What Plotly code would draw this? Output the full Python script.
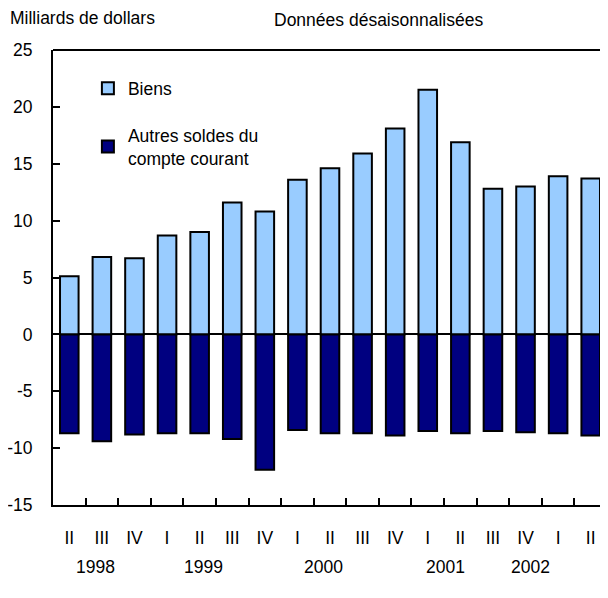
import plotly.graph_objects as go

quarters = ["II", "III", "IV", "I", "II", "III", "IV", "I", "II", "III", "IV", "I", "II", "III", "IV", "I", "II"]
years = ["1998", "1999", "2000", "2001", "2002"]
year_pos = [0.79, 4.13, 7.81, 11.55, 14.16]
y_ticks = [-15, -10, -5, 0, 5, 10, 15, 20, 25]
y_tick_text = ["-15", "-10", "-5", "0", "5", "10", "15", "20", "25"]
biens = [5.1, 6.8, 6.7, 8.7, 9.0, 11.6, 10.8, 13.6, 14.6, 15.9, 18.1, 21.5, 16.9, 12.8, 13.0, 13.9, 13.7]
autres = [-8.7, -9.4, -8.8, -8.7, -8.7, -9.2, -11.9, -8.4, -8.7, -8.7, -8.9, -8.5, -8.7, -8.5, -8.6, -8.7, -8.9]

x = list(range(len(quarters)))
FONT = "Liberation Sans, Arial, sans-serif"
FS = 17.5

fig = go.Figure()
fig.add_trace(go.Bar(x=x, y=biens, name="Biens", width=0.57,
                     marker=dict(color="#99CCFF", line=dict(color="black", width=2)),
                     legendgroup="a"))
fig.add_trace(go.Bar(x=x, y=autres, name="Autres soldes du<br>compte courant", width=0.57,
                     marker=dict(color="#000080", line=dict(color="black", width=2)),
                     legendgroup="b"))

# page body has an 8px margin, so the figure is shrunk and margins reduced by 8
fig.update_layout(
    width=600, height=590,
    margin=dict(l=45, r=1, t=42, b=93),
    paper_bgcolor="white", plot_bgcolor="white",
    barmode="relative",
    font=dict(family=FONT, size=FS, color="black"),
    showlegend=True,
    legend=dict(x=0.063, y=0.955, xanchor="left", yanchor="top",
                bgcolor="rgba(0,0,0,0)", font=dict(size=FS),
                traceorder="grouped", tracegroupgap=21),
    xaxis=dict(range=[-0.5, len(quarters) - 0.5], tickvals=x, ticktext=quarters,
               ticks="", showline=True, linecolor="black", linewidth=2,
               showgrid=False, zeroline=False, ticklabelstandoff=16, automargin=False,
               minor=dict(tickvals=[i + 0.5 for i in x[:-1]], ticks="inside",
                          ticklen=7, tickwidth=2, tickcolor="black", showgrid=False)),
    yaxis=dict(range=[-15, 25], tickvals=y_ticks, ticktext=y_tick_text,
               ticks="inside", ticklen=7, tickwidth=2, tickcolor="black",
               showline=True, linecolor="black", linewidth=2, automargin=False,
               showgrid=False, zeroline=True, zerolinecolor="black", zerolinewidth=2,
               ticklabelstandoff=15),
)

fig.add_shape(type="line", xref="paper", yref="paper", x0=0, x1=1, y0=1, y1=1,
              line=dict(color="black", width=2))
fig.add_shape(type="line", xref="paper", yref="paper", x0=1, x1=1, y0=0, y1=1,
              line=dict(color="#555555", width=1))

for yr, p in zip(years, year_pos):
    fig.add_annotation(x=p, y=-0.136, xref="x", yref="paper", text=yr,
                       showarrow=False, xanchor="center", yanchor="middle",
                       font=dict(size=FS))

fig.add_annotation(x=-45 / 554, y=1.07, xref="paper", yref="paper",
                   text="Milliards de dollars", showarrow=False,
                   xanchor="left", yanchor="middle", font=dict(size=FS))
fig.add_annotation(x=(272 - 53) / 554, y=1.066, xref="paper", yref="paper",
                   text="Données désaisonnalisées", showarrow=False,
                   xanchor="left", yanchor="middle", font=dict(size=FS))

fig.write_html("out.html")
